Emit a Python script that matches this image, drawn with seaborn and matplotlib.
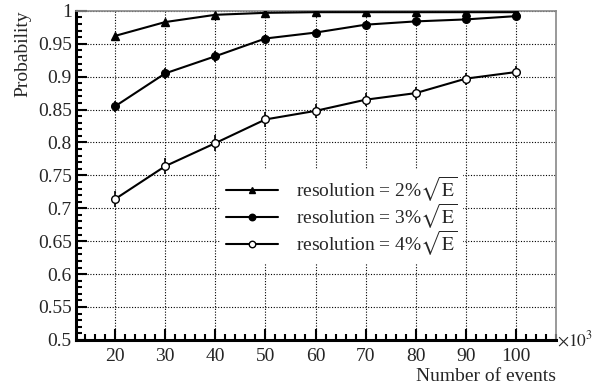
import seaborn as sns
import matplotlib.pyplot as plt
import matplotlib.ticker as mticker

events = [20, 30, 40, 50, 60, 70, 80, 90, 100]
prob_2pct = [0.962, 0.983, 0.994, 0.997, 0.998, 0.998, 0.998, 0.998, 0.998]
prob_3pct = [0.855, 0.905, 0.931, 0.958, 0.967, 0.979, 0.984, 0.987, 0.992]
prob_4pct = [0.714, 0.764, 0.799, 0.835, 0.848, 0.865, 0.875, 0.897, 0.907]
err_2pct = [0.003, 0.002, 0.002, 0.001, 0.001, 0.001, 0.001, 0.001, 0.001]
err_3pct = [0.008, 0.008, 0.008, 0.006, 0.006, 0.005, 0.004, 0.004, 0.004]
err_4pct = [0.012, 0.012, 0.012, 0.011, 0.011, 0.010, 0.010, 0.009, 0.009]
labels = [r"resolution = 2%$\sqrt{\mathrm{E}}$",
          r"resolution = 3%$\sqrt{\mathrm{E}}$",
          r"resolution = 4%$\sqrt{\mathrm{E}}$"]

sns.set_style("ticks")
plt.rcParams["font.family"] = ["Liberation Serif", "DejaVu Serif"]
plt.rcParams["mathtext.fontset"] = "stix"
plt.rcParams["font.size"] = 14

fig = plt.figure(figsize=(5.94, 3.88), dpi=100)
ax = fig.add_axes([0.128, 0.124, 0.808, 0.848])

series = [
    (prob_2pct, err_2pct, "^", "black", labels[0]),
    (prob_3pct, err_3pct, "o", "black", labels[1]),
    (prob_4pct, err_4pct, "o", "white", labels[2]),
]
for probs, errs, marker, face, label in series:
    ax.errorbar(events, probs, yerr=errs, fmt="none", ecolor="black",
                elinewidth=1.2, capsize=0, zorder=3)
    sns.lineplot(x=events, y=probs, ax=ax, color="black", linewidth=1.5,
                 marker=marker, markersize=5.5, markerfacecolor=face,
                 markeredgecolor="black", markeredgewidth=1.0,
                 label=label, zorder=4)

ax.set_xlim(12.2, 108)
ax.set_ylim(0.5, 1.0)
ax.xaxis.set_major_locator(mticker.MultipleLocator(10))
ax.xaxis.set_minor_locator(mticker.MultipleLocator(2))
ax.yaxis.set_major_locator(mticker.MultipleLocator(0.05))
ax.yaxis.set_minor_locator(mticker.MultipleLocator(0.01))
ax.yaxis.set_major_formatter(mticker.FuncFormatter(lambda v, p: f"{v:g}"))

ax.grid(True, which="major", linestyle=(0, (1, 1.5)), color="black",
        linewidth=0.8)
ax.tick_params(which="both", direction="in", top=False, right=False,
               labelsize=14, width=1.5, color="black")
ax.tick_params(which="major", length=8, pad=3)
ax.tick_params(which="minor", length=4)
ax.tick_params(axis="x", pad=6)

for side in ["left", "bottom"]:
    ax.spines[side].set_linewidth(2.2)
    ax.spines[side].set_color("black")
for side in ["top", "right"]:
    ax.spines[side].set_linewidth(1.2)
    ax.spines[side].set_color("#888888")

ax.set_xlabel("Number of events", loc="right", fontsize=14, labelpad=2)
ax.set_ylabel("Probability", loc="top", fontsize=14, labelpad=5)
ax.text(1.002, 0.0, r"$\times10^{3}$", transform=ax.transAxes,
        ha="left", va="center", fontsize=12.5)

leg = ax.legend(loc="upper left", bbox_to_anchor=(0.3, 0.52),
                borderaxespad=0, frameon=True, fancybox=False,
                framealpha=1, edgecolor="none", facecolor="white",
                handlelength=2.7, handletextpad=0.9, labelspacing=-0.1,
                markerscale=0.85, borderpad=0.3, fontsize=14)
leg.set_zorder(5)

fig.savefig("out.png", dpi=100)
